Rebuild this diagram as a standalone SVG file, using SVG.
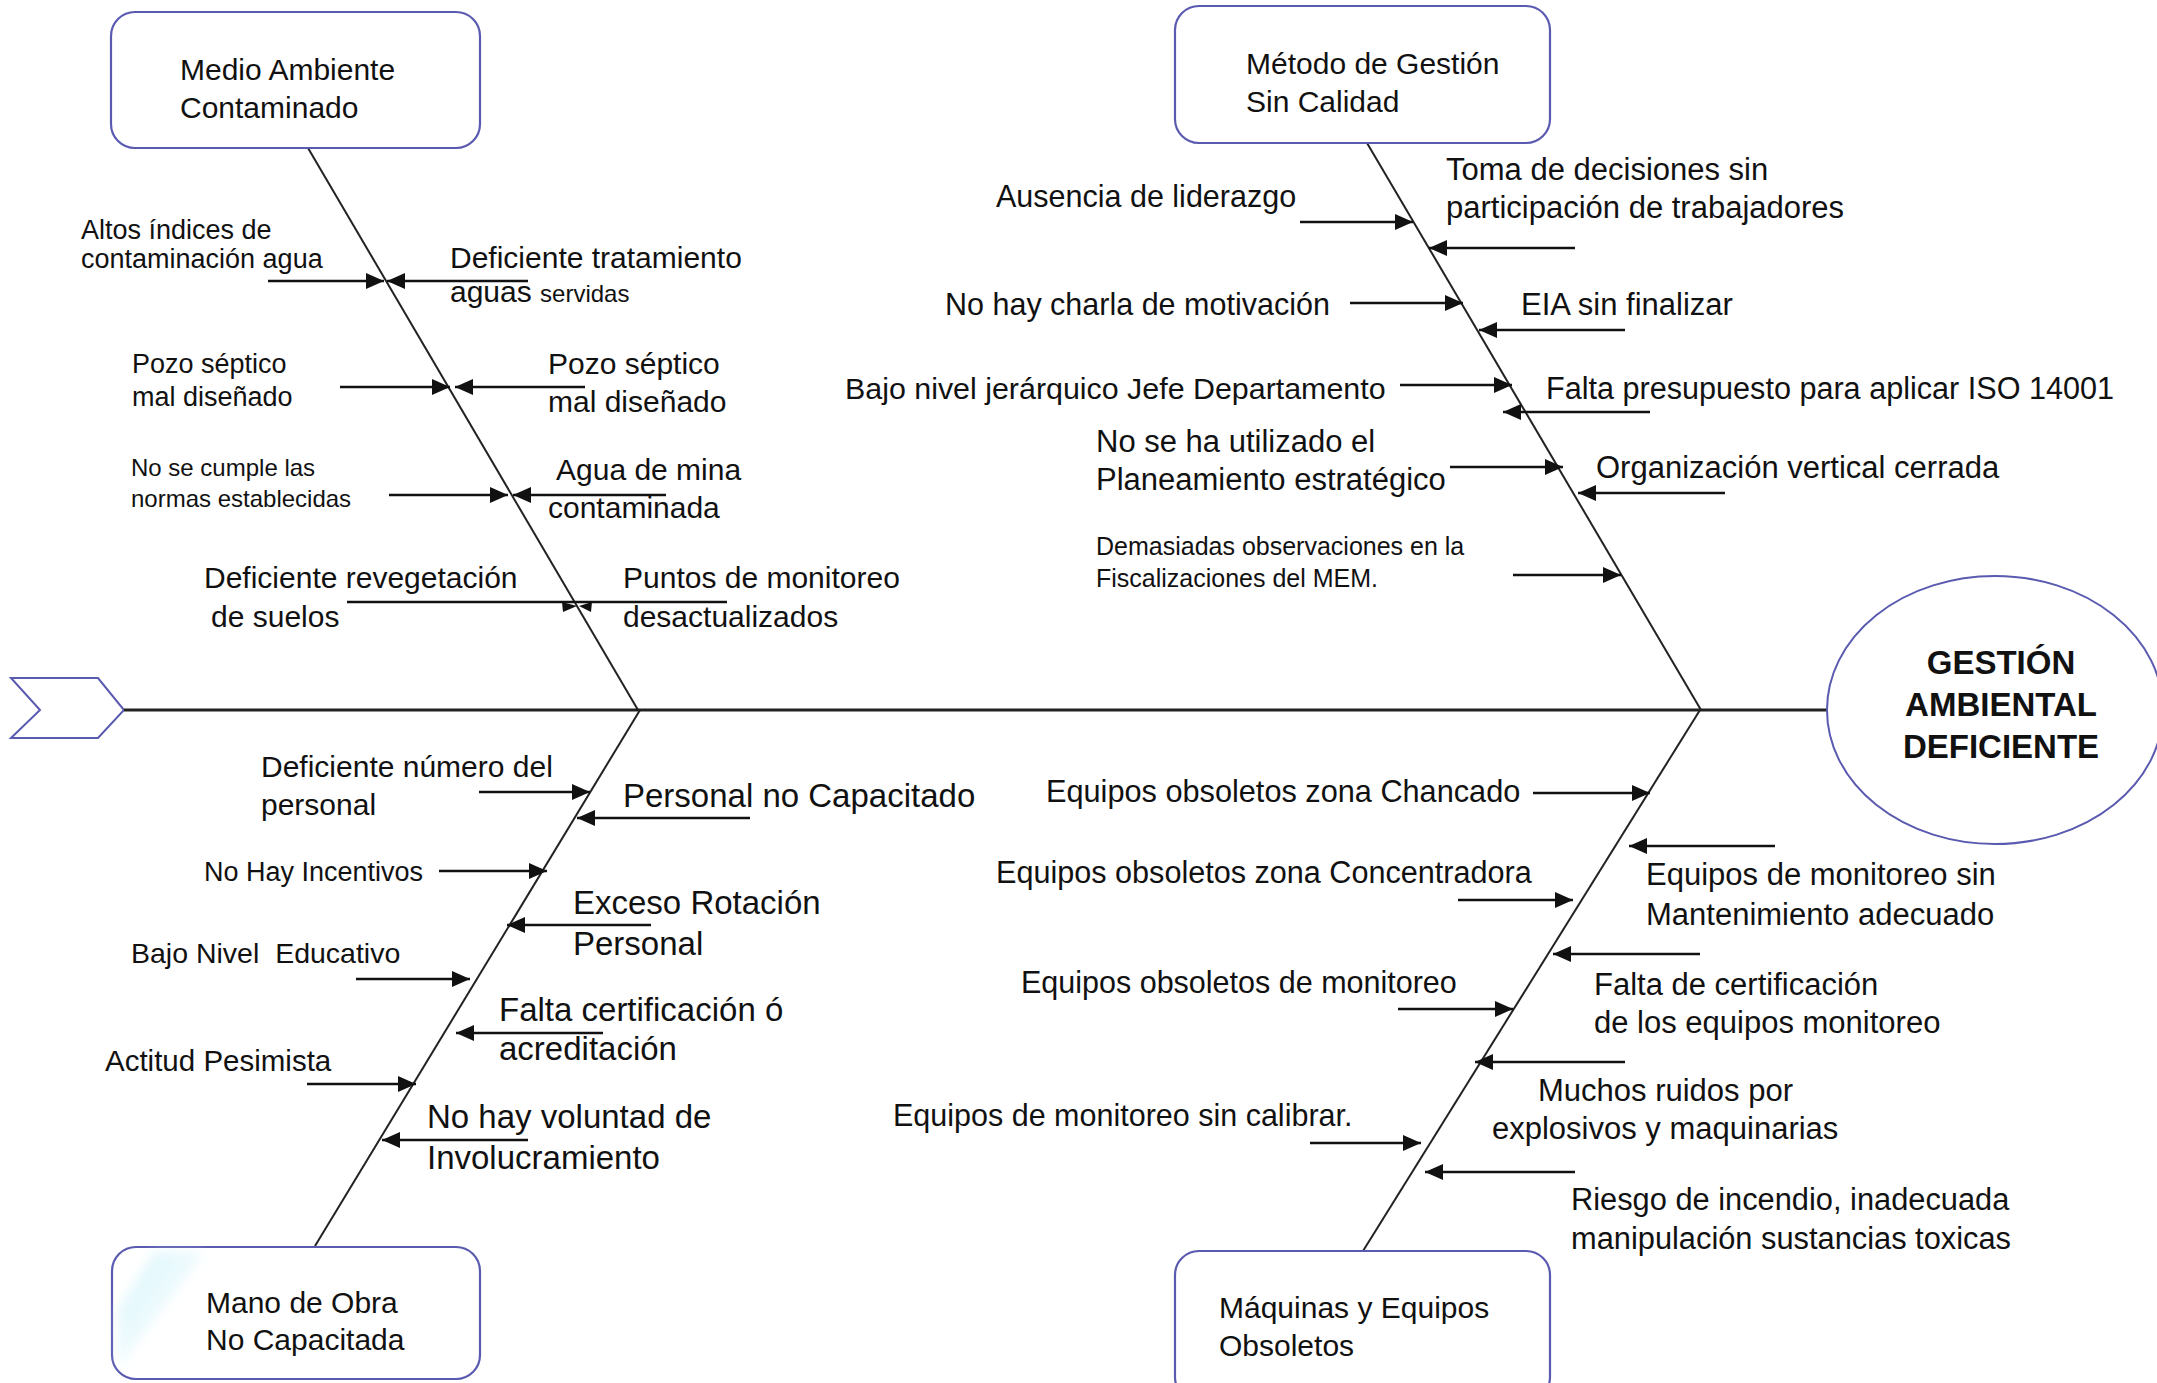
<svg xmlns="http://www.w3.org/2000/svg" width="2157" height="1383" viewBox="0 0 2157 1383">
  <defs>
    <marker id="ah" markerUnits="userSpaceOnUse" markerWidth="18" markerHeight="16" refX="18" refY="8" orient="auto">
      <path d="M0,0 L18,8 L0,16 Z" fill="#111"/>
    </marker>
    <linearGradient id="sheen" x1="0" y1="0" x2="1" y2="1">
      <stop offset="0" stop-color="#c6f0fa" stop-opacity="0.75"/>
      <stop offset="1" stop-color="#e8f9fd" stop-opacity="0.1"/>
    </linearGradient>
    <filter id="soft" x="-20%" y="-20%" width="140%" height="140%">
      <feGaussianBlur stdDeviation="6"/>
    </filter>
    <style>
      text { font-family: "Liberation Sans", Arial, sans-serif; fill: #111; }
      .box { fill: #fff; stroke: #5a5ab0; stroke-width: 2.2; }
      .bone { stroke: #222; stroke-width: 2; fill: none; }
      .spine { stroke: #222; stroke-width: 3; fill: none; }
      .arr { stroke: #111; stroke-width: 2.6; fill: none; marker-end: url(#ah); }
      .plain { stroke: #111; stroke-width: 2.6; fill: none; }
      .s24 { font-size: 24px; }
      .s25 { font-size: 25px; }
      .s27 { font-size: 27px; }
      .s28 { font-size: 28.5px; }
      .s30 { font-size: 30px; }
      .s31 { font-size: 31px; }
      .s33 { font-size: 33px; }
      .head { font-size: 33px; font-weight: bold; text-anchor: middle; }
    </style>
  </defs>

  <rect width="2157" height="1383" fill="#fff"/>

  <!-- spine, tail chevron and main bones -->
  <g id="connectors">
    <polygon points="11,678 98,678 124,710 98,738 11,738 40,710" fill="#fff" stroke="#5a5ab0" stroke-width="2"/>
    <line class="spine" x1="124" y1="710" x2="1828" y2="710"/>
    <line class="bone" x1="308" y1="148" x2="638" y2="710"/>
    <line class="bone" x1="640" y1="710" x2="315" y2="1246"/>
    <line class="bone" x1="1367" y1="143" x2="1701" y2="710"/>
    <line class="bone" x1="1700" y1="710" x2="1363" y2="1251"/>

    <!-- causes on the upper-left bone -->
    <line class="arr" x1="268" y1="281" x2="384" y2="281"/>
    <line class="arr" x1="528" y1="281" x2="387" y2="281"/>
    <line class="arr" x1="340" y1="387" x2="450" y2="387"/>
    <line class="arr" x1="585" y1="387" x2="455" y2="387"/>
    <line class="arr" x1="389" y1="495" x2="508" y2="495"/>
    <line class="arr" x1="666" y1="495" x2="513" y2="495"/>
    <line class="plain" x1="347" y1="602" x2="727" y2="602"/>
    <path d="M562,602 L577,606 L563,612 Z M592,602 L579,606 L591,612 Z" fill="#111"/>

    <!-- causes on the lower-left bone -->
    <line class="arr" x1="479" y1="792" x2="590" y2="792"/>
    <line class="arr" x1="750" y1="818" x2="577" y2="818"/>
    <line class="arr" x1="439" y1="871" x2="547" y2="871"/>
    <line class="arr" x1="651" y1="925" x2="507" y2="925"/>
    <line class="arr" x1="356" y1="979" x2="470" y2="979"/>
    <line class="arr" x1="603" y1="1033" x2="456" y2="1033"/>
    <line class="arr" x1="307" y1="1084" x2="416" y2="1084"/>
    <line class="arr" x1="528" y1="1140" x2="382" y2="1140"/>

    <!-- causes on the upper-right bone -->
    <line class="arr" x1="1300" y1="222" x2="1413" y2="222"/>
    <line class="arr" x1="1575" y1="248" x2="1429" y2="248"/>
    <line class="arr" x1="1350" y1="303" x2="1463" y2="303"/>
    <line class="arr" x1="1625" y1="330" x2="1479" y2="330"/>
    <line class="arr" x1="1400" y1="385" x2="1512" y2="385"/>
    <line class="arr" x1="1650" y1="412" x2="1503" y2="412"/>
    <line class="arr" x1="1450" y1="467" x2="1563" y2="467"/>
    <line class="arr" x1="1725" y1="493" x2="1578" y2="493"/>
    <line class="arr" x1="1513" y1="575" x2="1621" y2="575"/>

    <!-- causes on the lower-right bone -->
    <line class="arr" x1="1533" y1="793" x2="1650" y2="793"/>
    <line class="arr" x1="1775" y1="846" x2="1629" y2="846"/>
    <line class="arr" x1="1458" y1="900" x2="1573" y2="900"/>
    <line class="arr" x1="1700" y1="954" x2="1553" y2="954"/>
    <line class="arr" x1="1398" y1="1009" x2="1513" y2="1009"/>
    <line class="arr" x1="1625" y1="1062" x2="1475" y2="1062"/>
    <line class="arr" x1="1310" y1="1143" x2="1421" y2="1143"/>
    <line class="arr" x1="1575" y1="1172" x2="1425" y2="1172"/>
  </g>

  <!-- effect -->
  <g id="effect">
    <ellipse cx="1995" cy="710" rx="168" ry="134" fill="#fff" stroke="#5a5ab0" stroke-width="2"/>
    <text class="head" x="2001" y="674">GESTIÓN</text>
    <text class="head" x="2001" y="716">AMBIENTAL</text>
    <text class="head" x="2001" y="758">DEFICIENTE</text>
  </g>

  <!-- category boxes -->
  <g id="cat-medio-ambiente">
    <rect class="box" x="111" y="12" width="369" height="136" rx="24"/>
    <text class="s30" x="180" y="80">Medio Ambiente</text>
    <text class="s30" x="180" y="118">Contaminado</text>
  </g>
  <g id="cat-metodo">
    <rect class="box" x="1175" y="6" width="375" height="137" rx="24"/>
    <text class="s30" x="1246" y="74">Método de Gestión</text>
    <text class="s30" x="1246" y="112">Sin Calidad</text>
  </g>
  <g id="cat-mano-obra">
    <rect class="box" x="112" y="1247" width="368" height="132" rx="24"/>
    <polygon points="155,1252 205,1252 118,1368 118,1310" fill="url(#sheen)" filter="url(#soft)"/>
    <text class="s30" x="206" y="1313">Mano de Obra</text>
    <text class="s30" x="206" y="1350">No Capacitada</text>
  </g>
  <g id="cat-maquinas">
    <rect class="box" x="1175" y="1251" width="375" height="150" rx="24"/>
    <text class="s30" x="1219" y="1318">Máquinas y Equipos</text>
    <text class="s30" x="1219" y="1356">Obsoletos</text>
  </g>

  <!-- upper-left causes -->
  <g id="causes-medio-ambiente">
    <text class="s27" x="81" y="239">Altos índices de</text>
    <text class="s27" x="81" y="268">contaminación agua</text>
    <text class="s30" x="450" y="268">Deficiente tratamiento</text>
    <text class="s30" x="450" y="302">aguas <tspan class="s24">servidas</tspan></text>
    <text class="s27" x="132" y="373">Pozo séptico</text>
    <text class="s27" x="132" y="406">mal diseñado</text>
    <text class="s30" x="548" y="374">Pozo séptico</text>
    <text class="s30" x="548" y="412">mal diseñado</text>
    <text class="s24" x="131" y="476">No se cumple las</text>
    <text class="s24" x="131" y="507">normas establecidas</text>
    <text class="s30" x="556" y="480">Agua de mina</text>
    <text class="s30" x="548" y="518">contaminada</text>
    <text class="s30" x="204" y="588">Deficiente revegetación</text>
    <text class="s30" x="211" y="627">de suelos</text>
    <text class="s30" x="623" y="588">Puntos de monitoreo</text>
    <text class="s30" x="623" y="627">desactualizados</text>
  </g>

  <!-- lower-left causes -->
  <g id="causes-mano-obra">
    <text class="s30" x="261" y="777">Deficiente número del</text>
    <text class="s30" x="261" y="815">personal</text>
    <text class="s33" x="623" y="807">Personal no Capacitado</text>
    <text class="s27" x="204" y="881">No Hay Incentivos</text>
    <text class="s33" x="573" y="914">Exceso Rotación</text>
    <text class="s33" x="573" y="955">Personal</text>
    <text class="s28" x="131" y="963">Bajo Nivel&#160; Educativo</text>
    <text class="s33" x="499" y="1021">Falta certificación ó</text>
    <text class="s33" x="499" y="1060">acreditación</text>
    <text class="s30" x="105" y="1071" style="font-size:29.5px">Actitud Pesimista</text>
    <text class="s33" x="427" y="1128">No hay voluntad de</text>
    <text class="s33" x="427" y="1169">Involucramiento</text>
  </g>

  <!-- upper-right causes -->
  <g id="causes-metodo">
    <text class="s30" x="996" y="207" style="font-size:30.5px">Ausencia de liderazgo</text>
    <text class="s31" x="1446" y="180">Toma de decisiones sin</text>
    <text class="s31" x="1446" y="218">participación de trabajadores</text>
    <text class="s30" x="945" y="315" style="font-size:30.5px">No hay charla de motivación</text>
    <text class="s31" x="1521" y="315">EIA sin finalizar</text>
    <text class="s30" x="845" y="399" style="font-size:30.4px">Bajo nivel jerárquico Jefe Departamento</text>
    <text class="s30" x="1546" y="399" style="font-size:30.6px">Falta presupuesto para aplicar ISO 14001</text>
    <text class="s31" x="1096" y="452">No se ha utilizado el</text>
    <text class="s31" x="1096" y="490">Planeamiento estratégico</text>
    <text class="s31" x="1596" y="478">Organización vertical cerrada</text>
    <text class="s25" x="1096" y="555">Demasiadas observaciones en la</text>
    <text class="s25" x="1096" y="587">Fiscalizaciones del MEM.</text>
  </g>

  <!-- lower-right causes -->
  <g id="causes-maquinas">
    <text class="s30" x="1046" y="802" style="font-size:30.7px">Equipos obsoletos zona Chancado</text>
    <text class="s31" x="1646" y="885">Equipos de monitoreo sin</text>
    <text class="s31" x="1646" y="925">Mantenimiento adecuado</text>
    <text class="s30" x="996" y="883" style="font-size:30.6px">Equipos obsoletos zona Concentradora</text>
    <text class="s31" x="1594" y="995">Falta de certificación</text>
    <text class="s31" x="1594" y="1033">de los equipos monitoreo</text>
    <text class="s30" x="1021" y="993" style="font-size:30.5px">Equipos obsoletos de monitoreo</text>
    <text class="s31" x="1538" y="1101">Muchos ruidos por</text>
    <text class="s31" x="1492" y="1139">explosivos y maquinarias</text>
    <text class="s30" x="893" y="1126" style="font-size:30.5px">Equipos de monitoreo sin calibrar.</text>
    <text class="s30" x="1571" y="1210" style="font-size:30.8px">Riesgo de incendio, inadecuada</text>
    <text class="s30" x="1571" y="1249" style="font-size:30.8px">manipulación sustancias toxicas</text>
  </g>
</svg>
